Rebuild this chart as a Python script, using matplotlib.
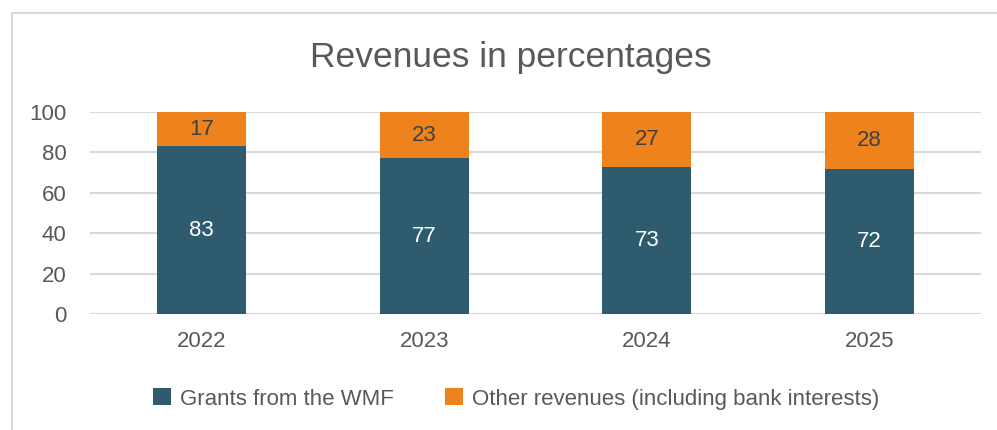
import matplotlib
matplotlib.use("Agg")
import matplotlib.pyplot as plt
from matplotlib.patches import Rectangle

years = ["2022", "2023", "2024", "2025"]
grants_wmf = [83, 77, 73, 72]
other_revenues = [17, 23, 27, 28]
yticks = [0, 20, 40, 60, 80, 100]

TEAL = "#2E5C6E"
ORANGE = "#EE821C"
TEXT = "#595959"
GRID = "#D9D9D9"

plt.rcParams["font.family"] = ["Liberation Sans", "DejaVu Sans"]

fig = plt.figure(figsize=(9.97, 4.30), dpi=100)
# chart frame (only left/top edges fall inside the picture)
fig.patches.append(Rectangle((12 / 997, -0.1), 1.2, (430 - 13) / 430 + 0.1,
                             transform=fig.transFigure, fill=False,
                             edgecolor=GRID, lw=1.5))

ax = fig.add_axes([90 / 997, 1 - 314 / 430, 891 / 997, 202 / 430])
x = range(len(years))
ax.bar(x, grants_wmf, width=0.4, color=TEAL, label="Grants from the WMF", zorder=3)
ax.bar(x, other_revenues, width=0.4, bottom=grants_wmf, color=ORANGE,
       label="Other revenues (including bank interests)", zorder=3)

for i in x:
    ax.text(i, grants_wmf[i] / 2, str(grants_wmf[i]), ha="center", va="center",
            color="white", fontsize=16, zorder=4)
    ax.text(i, grants_wmf[i] + other_revenues[i] / 2, str(other_revenues[i]),
            ha="center", va="center", color="#404040", fontsize=16, zorder=4)

ax.set_xlim(-0.5, len(years) - 0.5)
ax.set_ylim(0, 100)
ax.set_yticks(yticks)
ax.set_xticks(list(x))
ax.set_xticklabels(years)
ax.tick_params(axis="both", length=0, labelsize=16, colors=TEXT)
ax.tick_params(axis="y", pad=17)
ax.tick_params(axis="x", pad=12)
ax.yaxis.grid(True, color=GRID, lw=1.5, zorder=0)
for s in ax.spines.values():
    s.set_visible(False)

fig.text(511 / 997, 1 - 58 / 430, "Revenues in percentages", ha="center", va="center",
         fontsize=25.5, color=TEXT)

fig.legend(loc="center", bbox_to_anchor=(516 / 997, 1 - 399 / 430), ncol=2,
           frameon=False, fontsize=16, labelcolor=TEXT, handlelength=0.8,
           handleheight=0.8, handletextpad=0.4, columnspacing=2.3)

fig.savefig("out.png", dpi=100)
